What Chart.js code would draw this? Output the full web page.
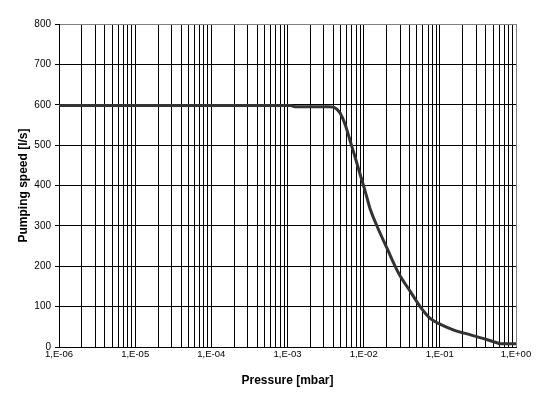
<!DOCTYPE html>
<html><head><meta charset="utf-8">
<script src="https://cdn.jsdelivr.net/npm/chart.js@4/dist/chart.umd.min.js"></script>
<style>html,body{margin:0;padding:0;background:#fff;overflow:hidden}canvas{display:block}</style>
</head><body>
<canvas id="c" width="558" height="396"></canvas>
<script>
// Data
const pressure = [1e-6, 1e-5, 1e-4, 1.1e-3, 1.25e-3, 3.5e-3, 4.0e-3, 4.5e-3, 4.93e-3, 5.74e-3, 6.68e-3, 7.78e-3, 9.04e-3, 1.05e-2, 1.22e-2, 1.5e-2, 2.03e-2, 2.89e-2, 4.11e-2, 5.57e-2, 7.55e-2, 0.102, 0.153, 0.253, 0.42, 0.55, 0.63, 1.0];
const speed    = [598,  598,  598,  598,    595,     595,    594,    588,    579,     550,     509,     468,     426,     385,     341,     299,    244,     182,     137,     99,      70,      56,    42,    30,    18,   11,   8,    8];
const decades = [1e-6, 1e-5, 1e-4, 1e-3, 1e-2, 1e-1, 1];
const xTickLabels = ['1,E-06', '1,E-05', '1,E-04', '1,E-03', '1,E-02', '1,E-01', '1,E+00'];
const minorSteps = [1, 2, 3, 4, 5, 6, 7, 8, 9];
const yTickValues = [0, 100, 200, 300, 400, 500, 600, 700, 800];
const xTitle = 'Pressure [mbar]';
const yTitle = 'Pumping speed [l/s]';

const xTickValues = [];
for (let i = 0; i < decades.length - 1; i++) {
  for (const m of minorSteps) xTickValues.push(decades[i] * m);
}
xTickValues.push(decades[decades.length - 1]);

function decadeIndex(v) {
  for (let i = 0; i < decades.length; i++) {
    if (Math.abs(v - decades[i]) / decades[i] < 1e-6) return i;
  }
  return -1;
}

const FONT = 'Liberation Sans, Arial, sans-serif';

new Chart(document.getElementById('c'), {
  type: 'line',
  data: {
    datasets: [{
      data: pressure.map((p, i) => ({x: p, y: speed[i]})),
      borderColor: '#333333',
      borderWidth: 3,
      pointRadius: 0,
      cubicInterpolationMode: 'monotone',
      fill: false
    }]
  },
  options: {
    responsive: false,
    animation: false,
    devicePixelRatio: 1,
    layout: {padding: {left: 0, top: 24, right: 42, bottom: 0}},
    plugins: {legend: {display: false}, tooltip: {enabled: false}},
    scales: {
      x: {
        type: 'logarithmic',
        min: decades[0],
        max: decades[decades.length - 1],
        afterBuildTicks: (scale) => { scale.ticks = xTickValues.map(v => ({value: v})); },
        afterFit: (scale) => { scale.height = 49; },
        ticks: {
          autoSkip: false,
          maxRotation: 0,
          padding: 2,
          color: '#000',
          font: {family: FONT, size: 9.5},
          callback: (v) => { const i = decadeIndex(v); return i >= 0 ? xTickLabels[i] : ''; }
        },
        grid: {
          color: (ctx) => (ctx.tick && decadeIndex(ctx.tick.value) === decades.length - 1) ? '#808080' : '#000',
          lineWidth: 1,
          drawTicks: false
        },
        border: {color: '#000', width: 1},
        title: {display: true, text: xTitle, color: '#000', font: {family: FONT, size: 12, weight: 'bold'}, padding: {top: 8, bottom: 8}}
      },
      y: {
        min: 0,
        max: 800,
        afterBuildTicks: (scale) => { scale.ticks = yTickValues.map(v => ({value: v})); },
        afterFit: (scale) => { scale.width = 59; },
        ticks: {
          padding: 4,
          color: '#000',
          font: {family: FONT, size: 10}
        },
        grid: {
          color: (ctx) => (ctx.tick && ctx.tick.value === 800) ? '#808080' : '#000',
          lineWidth: 1,
          tickLength: 4,
          tickColor: '#000'
        },
        border: {color: '#000', width: 1},
        title: {display: true, text: yTitle, color: '#000', font: {family: FONT, size: 12, weight: 'bold'}, padding: {top: 16, bottom: 16}}
      }
    }
  }
});
</script>
</body></html>
